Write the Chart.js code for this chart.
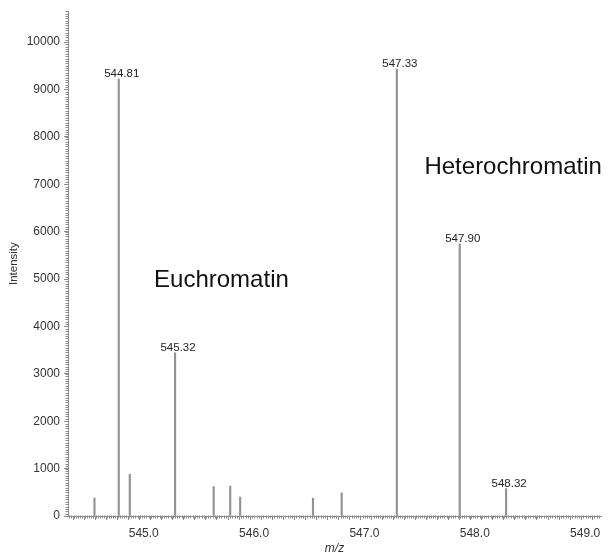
<!DOCTYPE html>
<html>
<head>
<meta charset="utf-8">
<script src="https://cdn.jsdelivr.net/npm/chart.js@4/dist/chart.umd.min.js"></script>
<style>
  html, body { margin: 0; padding: 0; background: #fff; }
  #wrap { width: 612px; height: 554px; }
</style>
</head>
<body>
<div id="wrap"><canvas id="spectrum" width="612" height="554"></canvas></div>
<script>
// Peak list (centroided m/z and intensity)
const mzValues = [544.59, 544.81, 544.91, 545.32, 545.67, 545.82, 545.91, 546.57, 546.83, 547.33, 547.90, 548.32];
const intensities = [380, 9220, 880, 3440, 620, 630, 400, 380, 490, 9430, 5740, 580];
// Peaks that carry an m/z label
const labelledPeaks = [544.81, 545.32, 547.33, 547.90, 548.32];
// Labelled intensity ticks
const intensityTicks = [0, 1000, 2000, 3000, 4000, 5000, 6000, 7000, 8000, 9000, 10000];
// Region annotations: text, anchor m/z, anchor intensity
const regionNames = ['Euchromatin', 'Heterochromatin'];
const regionMz = [545.13, 547.58];
const regionIntensity = [4970, 7350];

const AXIS_GREY = '#8a8a8a';
const TEXT_GREY = '#333333';
const FONT = "'Liberation Sans', Arial, sans-serif";

// Fine tick marks between the labelled ticks on both axes
const minorTicks = {
  id: 'minorTicks',
  afterDraw(chart) {
    const ctx = chart.ctx;
    const xs = chart.scales.x, ys = chart.scales.y;
    ctx.save();
    ctx.strokeStyle = AXIS_GREY;
    ctx.lineWidth = 1;
    ctx.beginPath();
    const y0 = Math.round(ys.bottom) + 0.5;
    for (let k = Math.ceil(xs.min / 0.02); k * 0.02 <= xs.max; k++) {
      const px = Math.round(xs.getPixelForValue(k * 0.02)) + 0.5;
      ctx.moveTo(px, y0 - 1);
      ctx.lineTo(px, y0 + 2);
    }
    const x0 = Math.round(xs.left) - 0.5;
    for (let k = 1; k * 50 <= ys.max; k++) {
      const py = Math.round(ys.getPixelForValue(k * 50)) + 0.5;
      ctx.moveTo(x0 - 2, py);
      ctx.lineTo(x0 + 1, py);
    }
    ctx.stroke();
    ctx.restore();
  }
};

// m/z labels above the selected peaks, plus the region captions
const peakLabels = {
  id: 'peakLabels',
  afterDatasetsDraw(chart) {
    const ctx = chart.ctx;
    const meta = chart.getDatasetMeta(0);
    ctx.save();
    ctx.font = '11.5px ' + FONT;
    ctx.fillStyle = '#222';
    ctx.textAlign = 'center';
    ctx.textBaseline = 'alphabetic';
    mzValues.forEach((mz, i) => {
      if (!labelledPeaks.includes(mz)) return;
      const bar = meta.data[i];
      ctx.fillText(mz.toFixed(2), bar.x + 3, bar.y - 2);
    });
    const xs = chart.scales.x, ys = chart.scales.y;
    ctx.font = '24px ' + FONT;
    ctx.fillStyle = '#111';
    ctx.textAlign = 'left';
    ctx.textBaseline = 'middle';
    regionNames.forEach((name, i) => {
      ctx.fillText(name, xs.getPixelForValue(regionMz[i]), ys.getPixelForValue(regionIntensity[i]));
    });
    ctx.restore();
  }
};

new Chart(document.getElementById('spectrum'), {
  type: 'bar',
  data: {
    datasets: [{
      data: mzValues.map((mz, i) => ({ x: mz, y: intensities[i] })),
      backgroundColor: '#939393',
      borderWidth: 0,
      barThickness: 1.5
    }]
  },
  options: {
    responsive: false,
    devicePixelRatio: 1,
    animation: false,
    layout: { padding: { top: 10, right: 11, left: 0, bottom: 0 } },
    plugins: { legend: { display: false }, tooltip: { enabled: false } },
    scales: {
      x: {
        type: 'linear',
        min: 544.35,
        max: 549.18,
        offset: false,
        border: { display: true, color: AXIS_GREY, width: 1 },
        grid: { display: true, drawOnChartArea: false, drawTicks: true, tickLength: 4, tickColor: AXIS_GREY, offset: false },
        ticks: {
          stepSize: 0.1,
          maxTicksLimit: 200,
          includeBounds: false,
          autoSkip: false,
          maxRotation: 0,
          minRotation: 0,
          padding: 6,
          labelOffset: 4,
          color: TEXT_GREY,
          font: { family: FONT, size: 12 },
          callback: v => (Math.abs(v - Math.round(v)) < 1e-6 ? Math.round(v).toFixed(1) : '')
        },
        title: {
          display: true,
          text: 'm/z',
          color: TEXT_GREY,
          font: { family: FONT, size: 12, style: 'italic' },
          padding: { top: 0, bottom: -2 }
        },
        afterFit(scale) { scale.height = 38; }
      },
      y: {
        type: 'linear',
        min: 0,
        max: 10650,
        border: { display: true, color: AXIS_GREY, width: 1 },
        grid: { display: true, drawOnChartArea: false, drawTicks: true, tickLength: 4, tickColor: AXIS_GREY },
        afterBuildTicks(scale) { scale.ticks = intensityTicks.map(v => ({ value: v })); },
        ticks: {
          autoSkip: false,
          padding: 4,
          color: TEXT_GREY,
          font: { family: FONT, size: 12 },
          callback: v => String(Math.round(v))
        },
        title: {
          display: true,
          text: 'Intensity',
          color: TEXT_GREY,
          font: { family: FONT, size: 11.5 },
          padding: { top: 7, bottom: 0 }
        },
        afterFit(scale) { scale.width = 68; }
      }
    }
  },
  plugins: [minorTicks, peakLabels]
});
</script>
</body>
</html>
